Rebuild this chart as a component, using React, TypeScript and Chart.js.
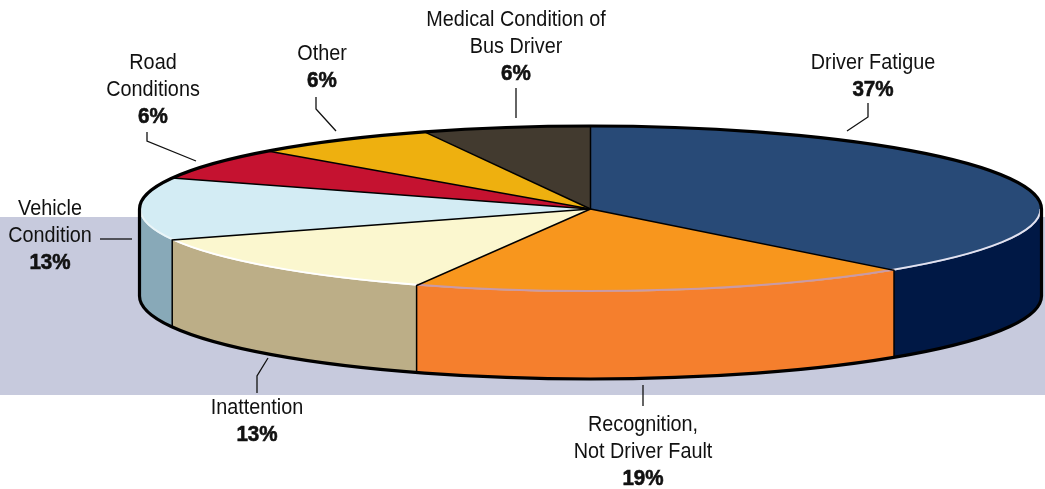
import React, { useEffect, useRef } from "react";
import { Chart, registerables } from "chart.js";

Chart.register(...registerables);

// Printed label texts and percentages
const categories = [
  "Driver Fatigue",
  "Recognition, Not Driver Fault",
  "Inattention",
  "Vehicle Condition",
  "Road Conditions",
  "Other",
  "Medical Condition of Bus Driver",
];
const percentLabels = ["37%", "19%", "13%", "13%", "6%", "6%", "6%"];
// Wedge sizes as they are drawn in the picture (share of the full circle)
const wedgeShares = [38.25, 18.05, 12.6, 12.2, 6.2, 6.7, 6.0];

const topColors = ["#284a77", "#f8961d", "#fbf7cf", "#d3ecf4", "#c51230", "#eeb00f", "#423a2f"];
const wallColors = ["#001845", "#f57f2d", "#bcae87", "#88a9b8", "#c51230", "#eeb00f", "#423a2f"];
const rimColors = ["#e2e2f0", "#c89aa8", "#ffffff", "#eaf5f8", "#ffffff", "#ffffff", "#ffffff"];

const labelLines = [
  ["Driver Fatigue"],
  ["Recognition,", "Not Driver Fault"],
  ["Inattention"],
  ["Vehicle", "Condition"],
  ["Road", "Conditions"],
  ["Other"],
  ["Medical Condition of", "Bus Driver"],
];
const labelX = [873, 643, 257, 50, 153, 322, 516];
const labelY = [63, 425, 408, 209, 63, 54, 20];
const leaders = [
  [[868, 103], [868, 117], [847, 131]],
  [[643, 385], [643, 406]],
  [[257, 393], [257, 376], [268, 358]],
  [[100, 239], [132, 239]],
  [[147, 132], [147, 141], [196, 161]],
  [[316, 97], [316, 109], [336, 131]],
  [[516, 88], [516, 118]],
];

const W = 1045;
const H = 489;
const CX = 590.5;
const CY = 209;
const RX = 451;
const RY = 83;
const DEPTH = 87;
const LINE_H = 27;
const FONT = '"Liberation Sans", sans-serif';
const TEXT_SIZE = 22.4;
const REGULAR_SQUEEZE = 0.885;
const BOLD_SQUEEZE = 0.92;

function squeezedText(ctx: any, text: string, x: number, y: number, squeeze: number, heavy: boolean) {
  ctx.save();
  ctx.translate(x, y);
  ctx.scale(squeeze, 1);
  if (heavy) {
    ctx.strokeStyle = ctx.fillStyle;
    ctx.lineWidth = 0.6;
    ctx.strokeText(text, 0, 0);
  }
  ctx.fillText(text, 0, 0);
  ctx.restore();
}

const pie3d = {
  id: "pie3d",
  beforeDraw(chart: any) {
    const ctx = chart.ctx;
    ctx.save();
    ctx.fillStyle = "#ffffff";
    ctx.fillRect(0, 0, W, H);
    ctx.fillStyle = "#c7cadd";
    ctx.fillRect(0, 217, W, 178);
    ctx.restore();
  },
  beforeDatasetsDraw(chart: any) {
    const ctx = chart.ctx;
    const arcs = chart.getDatasetMeta(0).data;
    // side walls of the front half, from each arc's own angles
    arcs.forEach((arc: any, i: number) => {
      const a0 = Math.max(arc.startAngle, 0);
      const a1 = Math.min(arc.endAngle, Math.PI);
      if (a1 <= a0) return;
      ctx.beginPath();
      ctx.ellipse(CX, CY, RX, RY, 0, a0, a1);
      ctx.ellipse(CX, CY + DEPTH, RX, RY, 0, a1, a0, true);
      ctx.closePath();
      ctx.fillStyle = wallColors[i];
      ctx.fill();
    });
    // squash the library's flat pie into the ellipse
    const first = arcs[0];
    const r = first.outerRadius;
    ctx.save();
    ctx.translate(CX, CY);
    ctx.scale(RX / r, RY / r);
    ctx.translate(-first.x, -first.y);
  },
  afterDatasetsDraw(chart: any) {
    const ctx = chart.ctx;
    ctx.restore();
    const arcs = chart.getDatasetMeta(0).data;

    // rim highlight
    arcs.forEach((arc: any, i: number) => {
      const a0 = Math.max(arc.startAngle, 0);
      const a1 = Math.min(arc.endAngle, Math.PI);
      if (a1 <= a0) return;
      ctx.beginPath();
      ctx.ellipse(CX, CY, RX - 1, RY - 1, 0, a0, a1);
      ctx.strokeStyle = rimColors[i];
      ctx.lineWidth = 2;
      ctx.stroke();
    });

    // wedge separators and wall seams
    ctx.strokeStyle = "#000000";
    ctx.lineWidth = 1.5;
    ctx.lineCap = "butt";
    arcs.forEach((arc: any) => {
      const a = arc.startAngle;
      const x = CX + RX * Math.cos(a);
      const y = CY + RY * Math.sin(a);
      ctx.beginPath();
      ctx.moveTo(CX, CY);
      ctx.lineTo(x, y);
      if (Math.sin(a) > 0) ctx.lineTo(x, y + DEPTH);
      ctx.stroke();
    });

    // outer outline
    ctx.lineWidth = 3.2;
    ctx.lineJoin = "round";
    ctx.beginPath();
    ctx.ellipse(CX, CY, RX, RY, 0, Math.PI, 2 * Math.PI);
    ctx.lineTo(CX + RX, CY + DEPTH);
    ctx.ellipse(CX, CY + DEPTH, RX, RY, 0, 0, Math.PI);
    ctx.closePath();
    ctx.stroke();

    // leaders
    ctx.strokeStyle = "#111111";
    ctx.lineWidth = 1.3;
    ctx.lineJoin = "miter";
    leaders.forEach((pts) => {
      ctx.beginPath();
      pts.forEach(([x, y], k) => (k ? ctx.lineTo(x, y) : ctx.moveTo(x, y)));
      ctx.stroke();
    });

    // labels
    ctx.fillStyle = "#111111";
    ctx.textAlign = "center";
    ctx.textBaseline = "middle";
    categories.forEach((_, i) => {
      const lines = labelLines[i];
      ctx.font = `${TEXT_SIZE}px ${FONT}`;
      lines.forEach((t, k) => squeezedText(ctx, t, labelX[i], labelY[i] + k * LINE_H, REGULAR_SQUEEZE, false));
      ctx.font = `bold ${TEXT_SIZE}px ${FONT}`;
      squeezedText(ctx, percentLabels[i], labelX[i], labelY[i] + lines.length * LINE_H, BOLD_SQUEEZE, true);
    });
  },
};

export default function App() {
  const ref = useRef<HTMLCanvasElement | null>(null);
  useEffect(() => {
    const chart = new Chart(ref.current as HTMLCanvasElement, {
      type: "pie",
      data: {
        labels: categories,
        datasets: [
          {
            data: wedgeShares,
            backgroundColor: topColors,
            borderWidth: 0,
            clip: false,
          } as any,
        ],
      },
      options: {
        responsive: false,
        animation: false,
        devicePixelRatio: 1,
        plugins: { legend: { display: false }, tooltip: { enabled: false } },
      },
      plugins: [pie3d],
    });
    return () => chart.destroy();
  }, []);
  return (
    <div style={{ position: "absolute", left: 0, top: 0, width: W, height: H }}>
      <canvas ref={ref} width={W} height={H} style={{ display: "block" }} />
    </div>
  );
}
